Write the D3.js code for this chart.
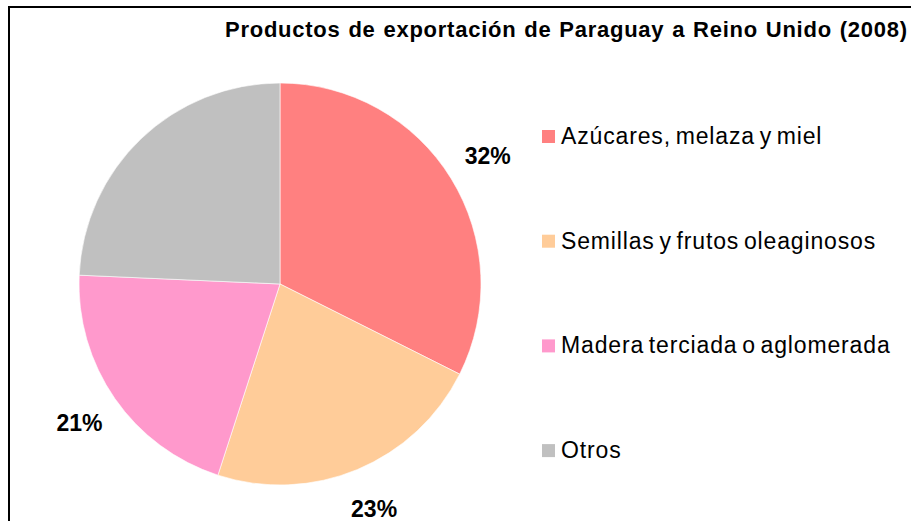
<!DOCTYPE html>
<html>
<head>
<meta charset="utf-8">
<script src="https://cdn.jsdelivr.net/npm/d3@7"></script>
<style>
  body { margin: 0; background: #fff; }
  svg { display: block; font-family: "Liberation Sans", Arial, sans-serif; }
</style>
</head>
<body>
<div id="chart"></div>
<script>
// data
const categories = ["Azúcares, melaza y miel", "Semillas y frutos oleaginosos", "Madera terciada o aglomerada", "Otros"];
const values = [32.4, 22.6, 20.7, 24.3];
const labels = ["32%", "23%", "21%", ""];
const colors = ["#FF8080", "#FFCC99", "#FF99CC", "#C0C0C0"];
const title = "Productos de exportación de Paraguay a Reino Unido (2008)";

const width = 911, height = 521;
const cx = 280, cy = 284, radius = 201;

const svg = d3.select("#chart").append("svg")
    .attr("width", width)
    .attr("height", height);

// frame (right & bottom run off the picture)
svg.append("rect")
    .attr("x", 9).attr("y", 7)
    .attr("width", 920).attr("height", 540)
    .attr("fill", "none")
    .attr("stroke", "#000")
    .attr("stroke-width", 2);

svg.append("text")
    .attr("x", 225).attr("y", 37)
    .attr("font-size", 22)
    .attr("font-weight", "bold")
    .attr("letter-spacing", 0.75)
    .attr("word-spacing", 1)
    .text(title);

const data = categories.map((c, i) => ({ name: c, value: values[i], label: labels[i], color: colors[i] }));

const pie = d3.pie().sort(null).value(d => d.value);
const arc = d3.arc().innerRadius(0).outerRadius(radius);
const labelArc = d3.arc().innerRadius(244).outerRadius(244);

const g = svg.append("g").attr("transform", `translate(${cx},${cy})`);
const arcs = pie(data);

g.selectAll("path")
  .data(arcs)
  .join("path")
    .attr("d", arc)
    .attr("fill", d => d.data.color)
    .attr("stroke", "#fff")
    .attr("stroke-width", 0.6);

g.selectAll("text")
  .data(arcs)
  .join("text")
    .attr("transform", d => `translate(${labelArc.centroid(d)})`)
    .attr("text-anchor", "middle")
    .attr("dy", "0.35em")
    .attr("font-size", 23)
    .attr("font-weight", "bold")
    .text(d => d.data.label);

// legend
const legend = svg.append("g")
  .selectAll("g")
  .data(data)
  .join("g")
    .attr("transform", (d, i) => `translate(542,${136 + i * 104.7})`);

legend.append("rect")
    .attr("x", 0).attr("y", -6)
    .attr("width", 13).attr("height", 13)
    .attr("fill", d => d.color);

legend.append("text")
    .attr("x", 19)
    .attr("dy", "0.35em")
    .attr("font-size", 23)
    .attr("letter-spacing", 0.85)
    .attr("word-spacing", -2.5)
    .text(d => d.name);
</script>
</body>
</html>
